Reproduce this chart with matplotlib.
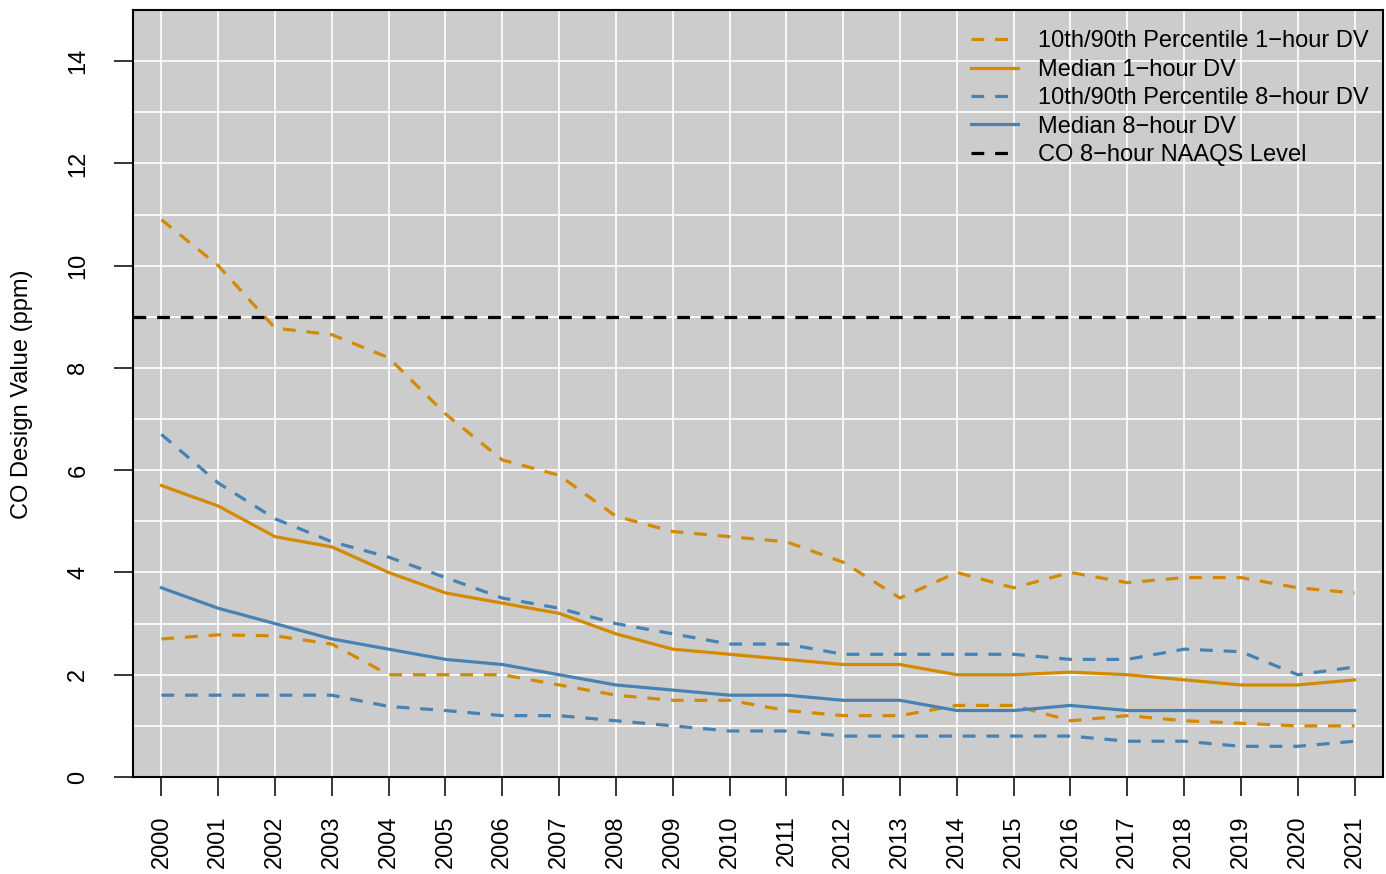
import numpy as np
import matplotlib
matplotlib.use('Agg')
import matplotlib.pyplot as plt

plt.rcParams['font.family'] = ['Liberation Sans', 'DejaVu Sans']

# CO design values (ppm), national trend
years = list(range(2000, 2022))
p90_1hr = [10.9, 10.0, 8.78, 8.65, 8.2, 7.1, 6.2, 5.9, 5.1, 4.8, 4.7,
           4.6, 4.2, 3.5, 4.0, 3.7, 4.0, 3.8, 3.9, 3.9, 3.7, 3.6]
p10_1hr = [2.7, 2.78, 2.76, 2.6, 2.0, 2.0, 2.0, 1.8, 1.6, 1.5, 1.5,
           1.3, 1.2, 1.2, 1.4, 1.4, 1.1, 1.2, 1.1, 1.05, 1.0, 1.0]
med_1hr = [5.7, 5.3, 4.7, 4.5, 4.0, 3.6, 3.4, 3.2, 2.8, 2.5, 2.4,
           2.3, 2.2, 2.2, 2.0, 2.0, 2.05, 2.0, 1.9, 1.8, 1.8, 1.9]
p90_8hr = [6.7, 5.75, 5.05, 4.6, 4.3, 3.9, 3.5, 3.3, 3.0, 2.8, 2.6,
           2.6, 2.4, 2.4, 2.4, 2.4, 2.3, 2.3, 2.5, 2.45, 2.0, 2.15]
p10_8hr = [1.6, 1.6, 1.6, 1.6, 1.38, 1.3, 1.2, 1.2, 1.1, 1.0, 0.9,
           0.9, 0.8, 0.8, 0.8, 0.8, 0.8, 0.7, 0.7, 0.6, 0.6, 0.7]
med_8hr = [3.7, 3.3, 3.0, 2.7, 2.5, 2.3, 2.2, 2.0, 1.8, 1.7, 1.6,
           1.6, 1.5, 1.5, 1.3, 1.3, 1.4, 1.3, 1.3, 1.3, 1.3, 1.3]
naaqs_8hr = 9

orange = '#D38A00'
blue = '#4682B4'
lw = 2.3
dash = (4.0, 3.4)
fs = 17

fig = plt.figure(figsize=(13.86, 8.74), dpi=100)
ax = fig.add_axes([133 / 1386, 97 / 874, 1250 / 1386, 767 / 874])
ax.set_facecolor('#CCCCCC')

ax.set_xlim(1999.5, 2021.5)
ax.set_ylim(0, 15)
ax.set_xticks(years)
ax.set_xticklabels([str(y) for y in years], rotation=90, fontsize=fs)
ax.set_yticks(np.arange(0, 15, 2))
ax.set_yticks(np.arange(1, 16, 2), minor=True)
ax.set_yticklabels([str(v) for v in range(0, 15, 2)], rotation=90,
                   va='center', fontsize=fs)
ax.tick_params(axis='both', which='major', length=13.5, width=1.1)
ax.tick_params(axis='x', pad=14)
ax.tick_params(axis='y', pad=18)
ax.tick_params(axis='y', which='minor', length=0)
ax.grid(True, which='both', color='white', linewidth=1.2)
ax.set_axisbelow(True)
for s in ax.spines.values():
    s.set_linewidth(1.5)

ax.plot(years, p90_1hr, color=orange, lw=lw, dashes=dash,
        label='10th/90th Percentile 1\u2212hour DV')
ax.plot(years, p10_1hr, color=orange, lw=lw, dashes=dash)
ax.plot(years, med_1hr, color=orange, lw=lw, label='Median 1\u2212hour DV')
ax.plot(years, p90_8hr, color=blue, lw=lw, dashes=dash,
        label='10th/90th Percentile 8\u2212hour DV')
ax.plot(years, p10_8hr, color=blue, lw=lw, dashes=dash)
ax.plot(years, med_8hr, color=blue, lw=lw, label='Median 8\u2212hour DV')
ax.axhline(naaqs_8hr, color='black', lw=lw, dashes=dash,
           label='CO 8\u2212hour NAAQS Level')

fig.text(22 / 1386, 1 - 394 / 874, 'CO Design Value (ppm)',
         rotation=90, ha='center', va='center', fontsize=fs)

ax.legend(loc='upper right', bbox_to_anchor=(1.004, 0.998), frameon=False,
          fontsize=fs, handlelength=2.0, handletextpad=0.85,
          labelspacing=0.27, borderpad=0.3)

fig.savefig('out.png', dpi=100)
